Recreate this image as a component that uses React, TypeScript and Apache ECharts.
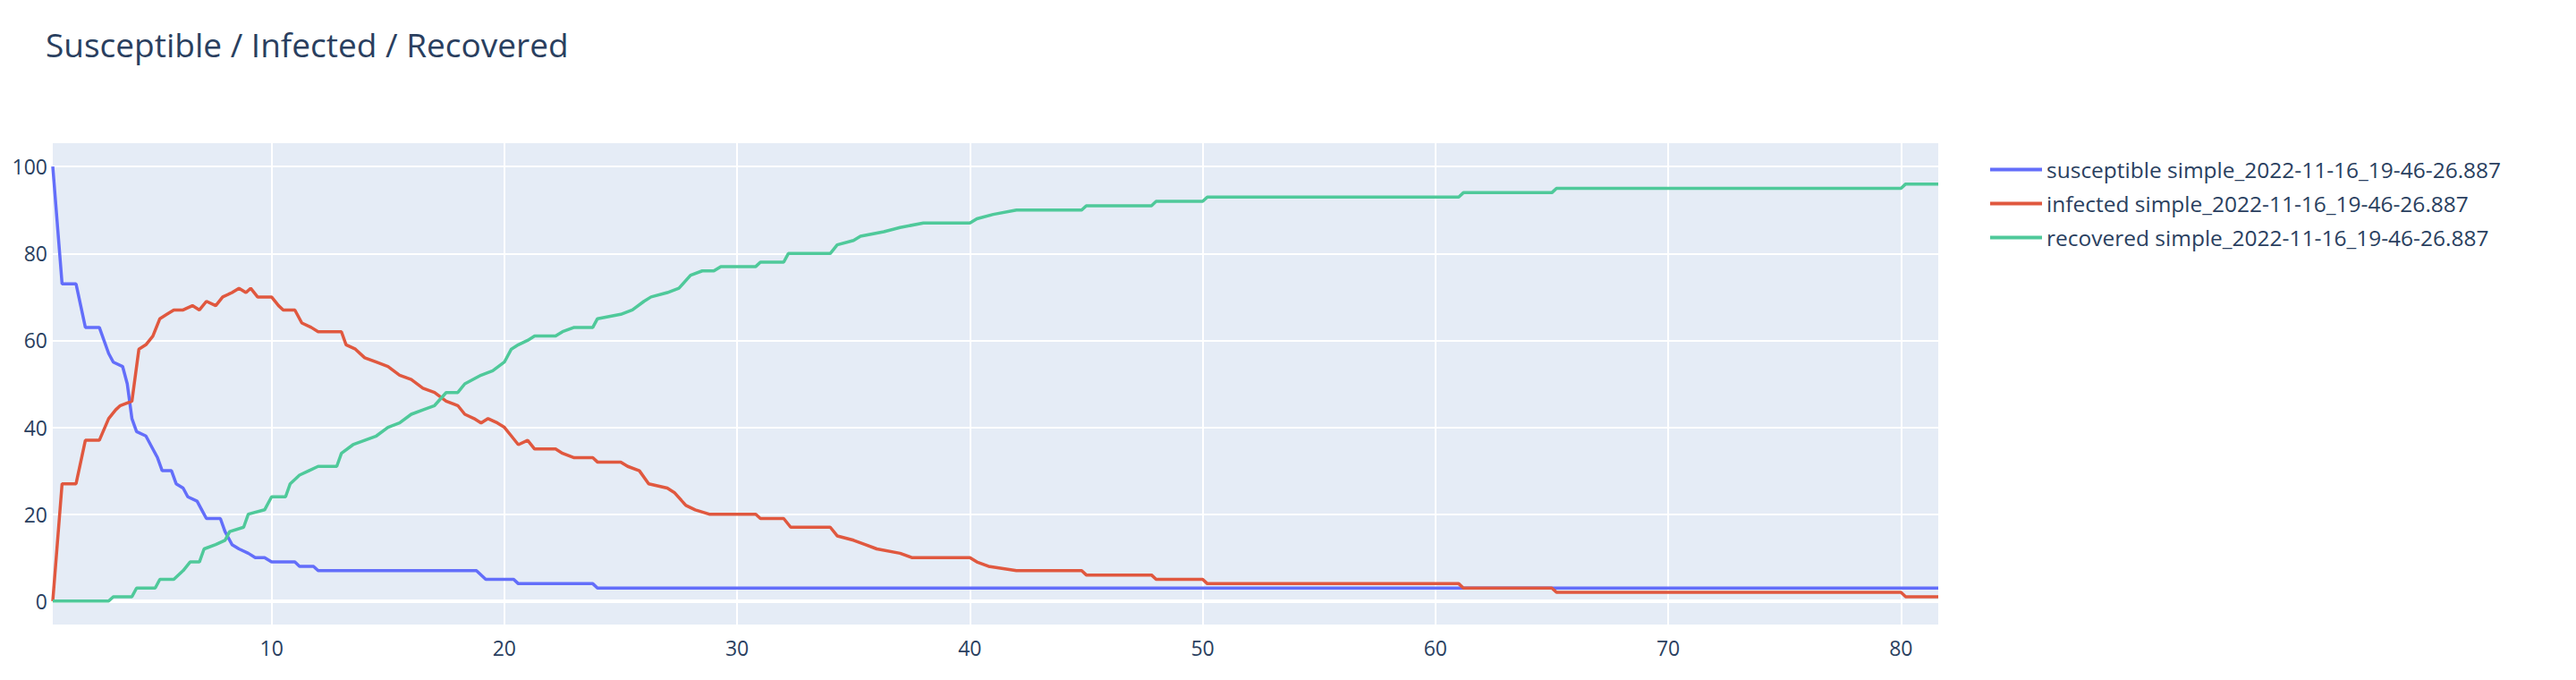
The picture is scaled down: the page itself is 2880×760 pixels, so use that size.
import { useEffect, useRef } from "react";
import * as echarts from "echarts";

const TITLE = "Susceptible / Infected / Recovered";
const RUN = "simple_2022-11-16_19-46-26.887";
const X_TICKS = [10, 20, 30, 40, 50, 60, 70, 80];
const Y_TICKS = [0, 20, 40, 60, 80, 100];

const susceptible: [number, number][] = [
  [0.6, 100], [1.0, 73], [1.6, 73], [2.0, 63], [2.6, 63], [3.0, 57], [3.2, 55], [3.6, 54], [3.8, 50],
  [4.0, 42], [4.2, 39], [4.6, 38], [4.8, 36], [5.1, 33], [5.3, 30], [5.7, 30], [5.9, 27], [6.2, 26],
  [6.4, 24], [6.8, 23], [7.0, 21], [7.2, 19], [7.8, 19], [8.0, 16], [8.3, 13], [8.6, 12], [9.0, 11],
  [9.3, 10], [9.7, 10], [10.0, 9], [11.0, 9], [11.2, 8], [11.8, 8], [12.0, 7], [18.8, 7], [19.2, 5],
  [20.4, 5], [20.6, 4], [23.8, 4], [24.0, 3], [81.6, 3],
];

const infected: [number, number][] = [
  [0.6, 0], [1.0, 27], [1.6, 27], [2.0, 37], [2.6, 37], [3.0, 42], [3.3, 44], [3.5, 45], [4.0, 46],
  [4.3, 58], [4.6, 59], [4.9, 61], [5.2, 65], [5.5, 66], [5.8, 67], [6.2, 67], [6.6, 68], [6.9, 67],
  [7.2, 69], [7.6, 68], [7.9, 70], [8.3, 71], [8.6, 72], [8.9, 71], [9.1, 72], [9.4, 70], [10.0, 70],
  [10.3, 68], [10.5, 67], [11.0, 67], [11.3, 64], [11.7, 63], [12.0, 62], [13.0, 62], [13.2, 59],
  [13.6, 58], [14.0, 56], [14.5, 55], [15.0, 54], [15.5, 52], [16.0, 51], [16.5, 49], [17.0, 48],
  [17.5, 46], [18.0, 45], [18.3, 43], [18.7, 42], [19.0, 41], [19.3, 42], [19.7, 41], [20.0, 40],
  [20.3, 38], [20.6, 36], [21.0, 37], [21.3, 35], [22.2, 35], [22.5, 34], [23.0, 33], [23.8, 33],
  [24.0, 32], [25.0, 32], [25.3, 31], [25.8, 30], [26.2, 27], [27.0, 26], [27.3, 25], [27.8, 22],
  [28.2, 21], [28.8, 20], [30.8, 20], [31.0, 19], [32.0, 19], [32.3, 17], [34.0, 17], [34.3, 15],
  [35.0, 14], [35.5, 13], [36.0, 12], [37.0, 11], [37.5, 10], [40.0, 10], [40.3, 9], [40.8, 8],
  [42.0, 7], [44.8, 7], [45.0, 6], [47.8, 6], [48.0, 5], [50.0, 5], [50.2, 4], [61.0, 4], [61.2, 3],
  [65.0, 3], [65.2, 2], [80.0, 2], [80.2, 1], [81.6, 1],
];

const recovered: [number, number][] = [
  [0.6, 0], [3.0, 0], [3.2, 1], [4.0, 1], [4.2, 3], [5.0, 3], [5.2, 5], [5.8, 5], [6.2, 7], [6.5, 9],
  [6.9, 9], [7.1, 12], [7.6, 13], [8.0, 14], [8.2, 16], [8.8, 17], [9.0, 20], [9.7, 21], [10.0, 24],
  [10.6, 24], [10.8, 27], [11.2, 29], [11.6, 30], [12.0, 31], [12.8, 31], [13.0, 34], [13.5, 36],
  [14.0, 37], [14.5, 38], [15.0, 40], [15.5, 41], [16.0, 43], [16.5, 44], [17.0, 45], [17.5, 48],
  [18.0, 48], [18.3, 50], [19.0, 52], [19.5, 53], [20.0, 55], [20.3, 58], [20.6, 59], [21.0, 60],
  [21.3, 61], [22.2, 61], [22.5, 62], [23.0, 63], [23.8, 63], [24.0, 65], [25.0, 66], [25.5, 67],
  [26.0, 69], [26.3, 70], [27.0, 71], [27.5, 72], [28.0, 75], [28.5, 76], [29.0, 76], [29.3, 77],
  [30.8, 77], [31.0, 78], [32.0, 78], [32.2, 80], [34.0, 80], [34.3, 82], [35.0, 83], [35.3, 84],
  [36.3, 85], [37.0, 86], [38.0, 87], [40.0, 87], [40.3, 88], [41.0, 89], [42.0, 90], [44.8, 90],
  [45.0, 91], [47.8, 91], [48.0, 92], [50.0, 92], [50.2, 93], [61.0, 93], [61.2, 94], [65.0, 94],
  [65.2, 95], [80.0, 95], [80.2, 96], [81.6, 96],
];

const FONT = '"Open Sans", sans-serif';
const TEXT = "#2a3f5f";

export default function App() {
  const ref = useRef<HTMLDivElement>(null);

  useEffect(() => {
    document.body.style.margin = "0";
    if (!ref.current) return;
    const chart = echarts.init(ref.current, undefined, { renderer: "svg" });

    const line = (name: string, data: [number, number][], color: string) => ({
      name: `${name} ${RUN}`,
      type: "line",
      data,
      showSymbol: false,
      symbol: "none",
      lineStyle: { width: 3.5, color },
      itemStyle: { color },
    });

    chart.setOption({
      animation: false,
      backgroundColor: "#fff",
      textStyle: { fontFamily: FONT },
      title: {
        text: TITLE,
        left: 46,
        top: 26,
        textStyle: { fontSize: 37, fontWeight: "normal", color: TEXT, fontFamily: FONT },
      },
      legend: {
        orient: "vertical",
        left: 2220,
        top: 172,
        icon: "rect",
        itemWidth: 58,
        itemHeight: 4,
        itemGap: 13,
        textStyle: { fontSize: 24.5, color: TEXT, fontFamily: FONT },
      },
      grid: { left: 59, right: 713, top: 160, bottom: 62 },
      xAxis: {
        type: "value",
        min: 0.6,
        max: 81.6,
        axisLine: { show: false },
        axisTick: { show: false, customValues: X_TICKS },
        axisLabel: { customValues: X_TICKS, fontSize: 23, color: TEXT, margin: 14 },
        splitLine: { lineStyle: { color: "#fff", width: 2 } },
      },
      yAxis: {
        type: "value",
        min: -5.4,
        max: 105.4,
        axisLine: { show: false },
        axisTick: { show: false, customValues: Y_TICKS },
        axisLabel: { customValues: Y_TICKS, fontSize: 23, color: TEXT, margin: 6 },
        splitLine: { lineStyle: { color: "#fff", width: 2 } },
      },
      graphic: [],
      series: [
        {
          ...line("susceptible", susceptible, "#636efa"),
          markLine: {
            silent: true,
            symbol: "none",
            label: { show: false },
            lineStyle: { color: "#fff", width: 4, type: "solid" },
            data: [{ yAxis: 0 }],
            z: 1,
          },
        },
        line("infected", infected, "#e0583f"),
        line("recovered", recovered, "#4fc99a"),
      ],
    });

    // plot background
    const bg = chart.convertToPixel("grid", [0.6, 105.4]);
    const bg2 = chart.convertToPixel("grid", [81.6, -5.4]);
    chart.setOption({
      graphic: [
        {
          type: "rect",
          z: -10,
          silent: true,
          shape: { x: bg[0], y: bg[1], width: bg2[0] - bg[0], height: bg2[1] - bg[1] },
          style: { fill: "#E5ECF6" },
        },
      ],
    });

    return () => chart.dispose();
  }, []);

  return <div ref={ref} style={{ width: 2880, height: 760 }} />;
}
